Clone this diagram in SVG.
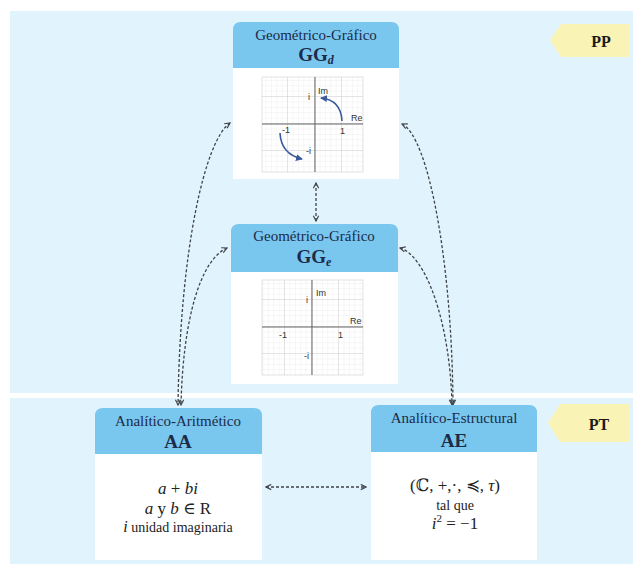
<svg xmlns="http://www.w3.org/2000/svg" width="633" height="571" viewBox="0 0 633 571">
<style>
.hdr{fill:#79c6ee}
.body{fill:#ffffff}
.ttl{font-family:"Liberation Serif","Times New Roman","DejaVu Serif",serif;font-size:15px;fill:#1c2b48;text-anchor:middle}
.code{font-family:"Liberation Serif","Times New Roman","DejaVu Serif",serif;font-size:19px;font-weight:bold;fill:#1c2b48;text-anchor:middle}
.sub{font-size:12px;font-style:italic;font-weight:bold}
.math{font-family:"Liberation Serif","DejaVu Serif",serif;font-size:17px;fill:#222;text-anchor:middle}
.txt{font-family:"Liberation Serif","Times New Roman","DejaVu Serif",serif;font-size:14px;fill:#222;text-anchor:middle}
.it{font-style:italic}
.glbl{font-family:"Liberation Sans",Arial,sans-serif;font-size:9px;fill:#333}
.axis{stroke:#666;stroke-width:1;fill:none}
.conn{fill:none;stroke:#3f4347;stroke-width:1.3;stroke-dasharray:3 2;marker-start:url(#arr);marker-end:url(#arr)}
.tag{fill:#f9f4b6}
.tagt{font-family:"Liberation Serif","Times New Roman","DejaVu Serif",serif;font-size:16px;font-weight:bold;fill:#1a1a1a;text-anchor:middle}
.blue{fill:none;stroke:#3b5a9c;stroke-width:1.6;marker-end:url(#barr)}
</style>
<defs>
<marker id="arr" viewBox="0 0 8 8" refX="7" refY="4" markerWidth="7" markerHeight="7" markerUnits="userSpaceOnUse" orient="auto-start-reverse">
<path d="M1,1 L7,4 L1,7" fill="none" stroke="#3f4347" stroke-width="1.3"/>
</marker>
<marker id="barr" viewBox="0 0 8 8" refX="6" refY="4" markerWidth="8" markerHeight="8" markerUnits="userSpaceOnUse" orient="auto">
<path d="M0,0.5 L7,4 L0,7.5 Z" fill="#3b5a9c"/>
</marker>
<pattern id="minor" width="5.4" height="5.4" patternUnits="userSpaceOnUse">
<path d="M5.4 0V5.4H0" fill="none" stroke="#e6e6e6" stroke-width="0.6"/>
</pattern>
<pattern id="major" width="27" height="27" patternUnits="userSpaceOnUse">
<rect width="27" height="27" fill="url(#minor)"/>
<path d="M27 0V27H0" fill="none" stroke="#c6c6c6" stroke-width="0.8"/>
</pattern>
</defs>

<rect x="0" y="0" width="633" height="571" fill="#ffffff"/>
<rect x="10" y="11" width="623" height="382" fill="#e1f4fd"/>
<rect x="10" y="398" width="623" height="166" fill="#e1f4fd"/>

<g id="tag-pp">
<path class="tag" d="M550,40 L561,24 L630,24 L630,57 L561,57 Z"/>
<text class="tagt" x="601" y="47">PP</text>
</g>
<g id="tag-pt">
<path class="tag" d="M548,423 L560,404 L630,404 L630,442 L560,442 Z"/>
<text class="tagt" x="599" y="430">PT</text>
</g>

<g id="connectors">
<path class="conn" d="M230,123 C205,140 180,250 178,405"/>
<path class="conn" d="M227,248 C200,260 183,320 181,405"/>
<path class="conn" d="M402,124 C428,136 452,260 453,405"/>
<path class="conn" d="M400,248 C425,255 450,320 452,405"/>
<path class="conn" d="M316,183 L316,221"/>
<path class="conn" d="M266,487 L366,487"/>
</g>

<g id="node-ggd">
<path class="hdr" d="M233,68 V30 Q233,22 241,22 H391 Q399,22 399,30 V68 Z"/>
<rect class="body" x="233" y="68" width="166" height="111"/>
<text class="ttl" x="316" y="40">Geométrico-Gráfico</text>
<text class="code" x="316" y="61">GG<tspan class="sub" dy="3">d</tspan></text>
<g transform="translate(315,124)">
<rect x="-53" y="-47" width="101" height="95" fill="#ffffff"/>
<rect x="-53" y="-47" width="101" height="95" fill="url(#major)" stroke="#d0d0d0" stroke-width="0.6"/>
<path class="axis" d="M-53,0 H48 M0,-47 V48"/>
<text class="glbl" x="3" y="-30">Im</text>
<text class="glbl" x="-7" y="-24">i</text>
<text class="glbl" x="36" y="-3">Re</text>
<text class="glbl" x="-33" y="9">-1</text>
<text class="glbl" x="25" y="10">1</text>
<text class="glbl" x="-9" y="30">-i</text>
<path class="blue" d="M27,-3 Q26,-24 6,-26"/>
<path class="blue" d="M-35,9 Q-34,30 -13,35"/>
</g>
</g>

<g id="node-gge">
<path class="hdr" d="M231,272 V232 Q231,224 239,224 H390 Q398,224 398,232 V272 Z"/>
<rect class="body" x="231" y="272" width="167" height="112"/>
<text class="ttl" x="314" y="241">Geométrico-Gráfico</text>
<text class="code" x="314" y="263">GG<tspan class="sub" dy="3">e</tspan></text>
<g transform="translate(312,327)">
<rect x="-50" y="-47" width="101" height="95" fill="#ffffff"/>
<rect x="-50" y="-47" width="101" height="95" fill="url(#major)" stroke="#d0d0d0" stroke-width="0.6"/>
<path class="axis" d="M-50,0 H51 M0,-47 V48"/>
<text class="glbl" x="4" y="-31">Im</text>
<text class="glbl" x="-6" y="-24">i</text>
<text class="glbl" x="38" y="-3">Re</text>
<text class="glbl" x="-33" y="11">-1</text>
<text class="glbl" x="26" y="11">1</text>
<text class="glbl" x="-8" y="32">-i</text>
</g>
</g>

<g id="node-aa">
<path class="hdr" d="M95,454 V416 Q95,408 103,408 H254 Q262,408 262,416 V454 Z"/>
<rect class="body" x="95" y="454" width="167" height="106"/>
<text class="ttl" x="178" y="426">Analítico-Aritmético</text>
<text class="code" x="178" y="448">AA</text>
<text class="math" x="178" y="494"><tspan class="it">a</tspan> + <tspan class="it">bi</tspan></text>
<text class="math" x="178" y="514"><tspan class="it">a</tspan> y <tspan class="it">b</tspan> ∈ R</text>
<text class="txt" x="178" y="532"><tspan class="it" font-size="16">i</tspan> unidad imaginaria</text>
</g>

<g id="node-ae">
<path class="hdr" d="M371,452 V413 Q371,405 379,405 H529 Q537,405 537,413 V452 Z"/>
<rect class="body" x="371" y="452" width="166" height="108"/>
<text class="ttl" x="454" y="423">Analítico-Estructural</text>
<text class="code" x="454" y="447">AE</text>
<text class="math" x="455" y="491">(ℂ, +,·, ≼, <tspan class="it">τ</tspan>)</text>
<text class="txt" x="455" y="510">tal que</text>
<text class="math" x="455" y="529"><tspan class="it">i</tspan><tspan font-size="11" dy="-7">2</tspan><tspan dy="7"> = −1</tspan></text>
</g>
</svg>
